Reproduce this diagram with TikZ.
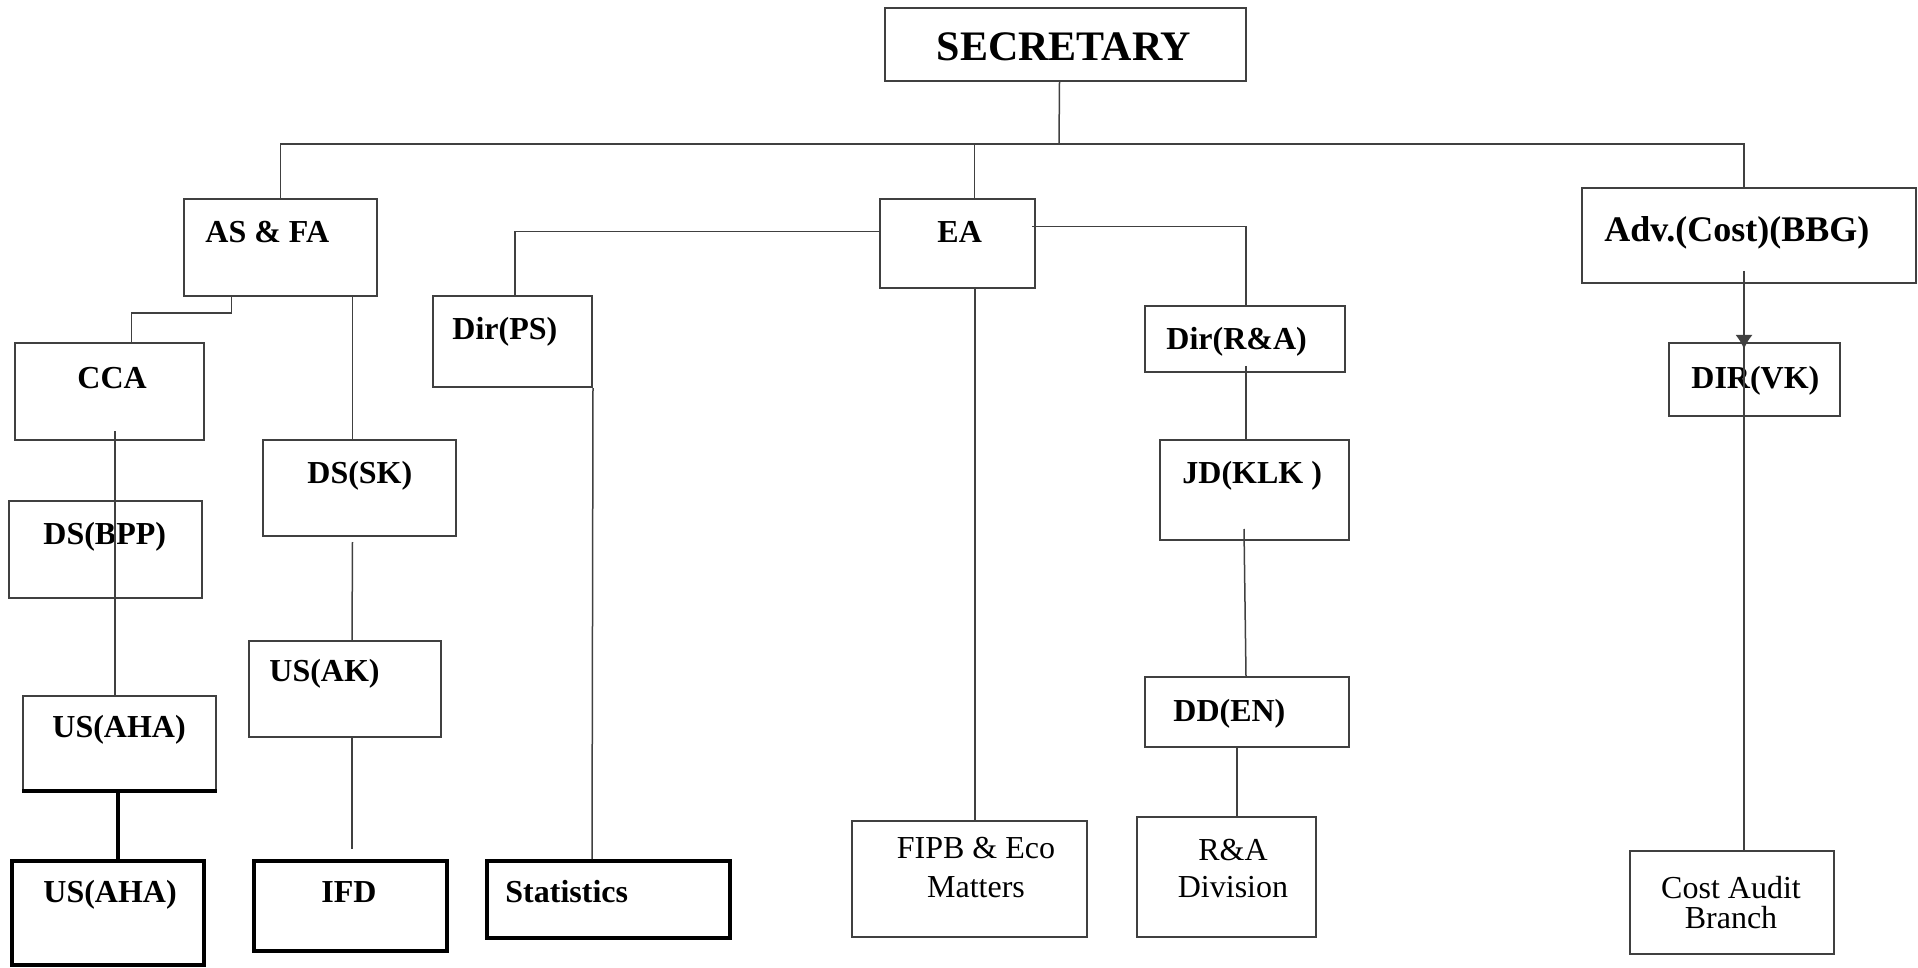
\documentclass[tikz,border=0pt]{standalone}
\usepackage{fontspec}
\setmainfont{Liberation Serif}
\usepackage{tikz}
\usetikzlibrary{fit,calc,arrows.meta}
\tikzset{
    unit/.style={draw=black!75, line width=1pt, inner sep=0pt},
    heavy/.style={draw=black, line width=2pt, inner sep=0pt},
    link/.style={draw=black!75, line width=0.75pt},
    tag/.style={font=\bfseries\fontsize{16}{19}\selectfont, inner sep=0pt, anchor=base west},
    note/.style={font=\fontsize{16}{#1}\selectfont, align=center, inner sep=0pt},
}

\begin{document}
\begin{tikzpicture}[x=0.5pt, y=-0.5pt]
		\useasboundingbox (0,0) rectangle (1918,968);

		% top level
		\node[unit, fit={(885,8) (1246,81)}] (sec) {};
		\node[tag, anchor=base, font=\bfseries\fontsize{21}{25}\selectfont] (sec-t) at (1064,61) {SECRETARY};
		\node[unit, fit={(184,199) (377,296)}] (asfa) {};
		\node[tag] (asfa-t) at (205,243) {AS \& FA};
		\node[unit, fit={(880,199) (1035,288)}] (ea) {};
		\node[tag] (ea-t) at (937,243) {EA};
		\node[unit, fit={(1582,188) (1916,283)}] (adv) {};
		\node[tag, font=\bfseries\fontsize{18}{22}\selectfont] (adv-t) at (1604,242) {Adv.(Cost)(BBG)};
		\coordinate (bus) at (1059,144);
		\draw[link] ($(sec.south)+(-6,0)$) -- (bus);
		\draw[link] (asfa.north) |- (bus) -| ($(adv.north)+(-5,0)$);
		\draw[link] (bus) -| ($(ea.north)+(17,0)$);

		% AS & FA
		\node[unit, fit={(15,343) (204,440)}] (cca) {};
		\node[tag] (cca-t) at (77,388) {CCA};
		\node[unit, fit={(9,501) (202,598)}] (dsbpp) {};
		\node[tag] (dsbpp-t) at (43,544) {DS(BPP)};
		\node[unit, fit={(23,696) (216,790)}] (usaha) {};
		\node[tag] (usaha-t) at (52,737) {US(AHA)};
		\node[heavy, fit={(12,861) (204,965)}] (usahb) {};
		\node[tag] (usahb-t) at (43,902) {US(AHA)};
		\node[unit, fit={(263,440) (456,536)}] (dssk) {};
		\node[tag] (dssk-t) at (307,483) {DS(SK)};
		\node[unit, fit={(249,641) (441,737)}] (usak) {};
		\node[tag] (usak-t) at (269,681) {US(AK)};
		\node[heavy, fit={(254,861) (447,951)}] (ifd) {};
		\node[tag] (ifd-t) at (321,902) {IFD};
		\draw[link] ($(asfa.south)+(-49,0)$) -- ++(0,16) -| ($(cca.north)+(22,0)$);
		\draw[link] ($(cca.south)+(5.5,-10)$) -- ($(usaha.north)+(-4.5,0)$);
		\draw[heavy] (usaha.south west) -- (usaha.south east);
		\draw[heavy] ($(usaha.south)+(-1.5,0)$) -- ($(usahb.north)+(10,0)$);
		\draw[link] ($(asfa.south)+(72,0)$) -- ($(dssk.north)+(-7,0)$);
		\draw[link] ($(dssk.south)+(-7,5)$) -- ($(usak.north)+(7,0)$);
		\draw[link] ($(usak.south)+(7,0)$) -- ($(ifd.north)+(1.5,-10)$);

		% EA
		\node[unit, fit={(433,296) (592,387)}] (dirps) {};
		\node[tag] (dirps-t) at (452,340) {Dir(PS)};
		\node[heavy, fit={(487,861) (730,938)}] (stat) {};
		\node[tag] (stat-t) at (505,902) {Statistics};
		\node[unit, fit={(852,821) (1087,937)}] (fipb) {};
		\node[note=19.5] (fipb-t) at (976,868) {FIPB \& Eco\\Matters};
		\node[unit, fit={(1145,306) (1345,372)}] (dirra) {};
		\node[tag] (dirra-t) at (1166,350) {Dir(R\&A)};
		\node[unit, fit={(1160,440) (1349,540)}] (jdklk) {};
		\node[tag] (jdklk-t) at (1182,483) {JD(KLK )};
		\node[unit, fit={(1145,677) (1349,747)}] (dden) {};
		\node[tag] (dden-t) at (1173,721) {DD(EN)};
		\node[unit, fit={(1137,817) (1316,937)}] (rad) {};
		\node[note=18.5] (rad-t) at (1233,869) {R\&A\\Division};
		\draw[link] ($(dirps.north)+(2.5,0)$) |- ($(ea.west)+(0,-12)$);
		\draw[link] (dirps.south east) -- ($(stat.north)+(-16.5,0)$);
		\draw[link] ($(ea.south)+(17.5,0)$) -- ($(fipb.north)+(5.5,0)$);
		\draw[link] ($(ea.east)+(-4,-17)$) -| ($(dirra.north)+(1,0)$);
		\draw[link] ($(dirra.south)+(1,-7)$) -- ($(jdklk.north)+(-8.5,0)$);
		\draw[link] ($(jdklk.south)+(-10.5,-12)$) -- ($(dden.north)+(-1,0)$);
		\draw[link] ($(dden.south)+(-10,0)$) -- ($(rad.north)+(10.5,0)$);

		% Adv (Cost)
		\node[unit, fit={(1669,343) (1840,416)}] (dirvk) {};
		\node[tag] (dirvk-t) at (1691,388) {DIR(VK)};
		\node[unit, fit={(1630,851) (1834,954)}] (cost) {};
		\node[note=15] (cost-t) at (1731,903) {Cost Audit\\Branch};
		\draw[link, -{Latex[length=7pt,width=8.5pt]}] ($(adv.south)+(-5,-13)$) -- ($(dirvk.north)+(-10.5,7)$);
		\draw[link] ($(dirvk.north)+(-10.5,0)$) -- ($(cost.north)+(12,0)$);
\end{tikzpicture}
\end{document}
